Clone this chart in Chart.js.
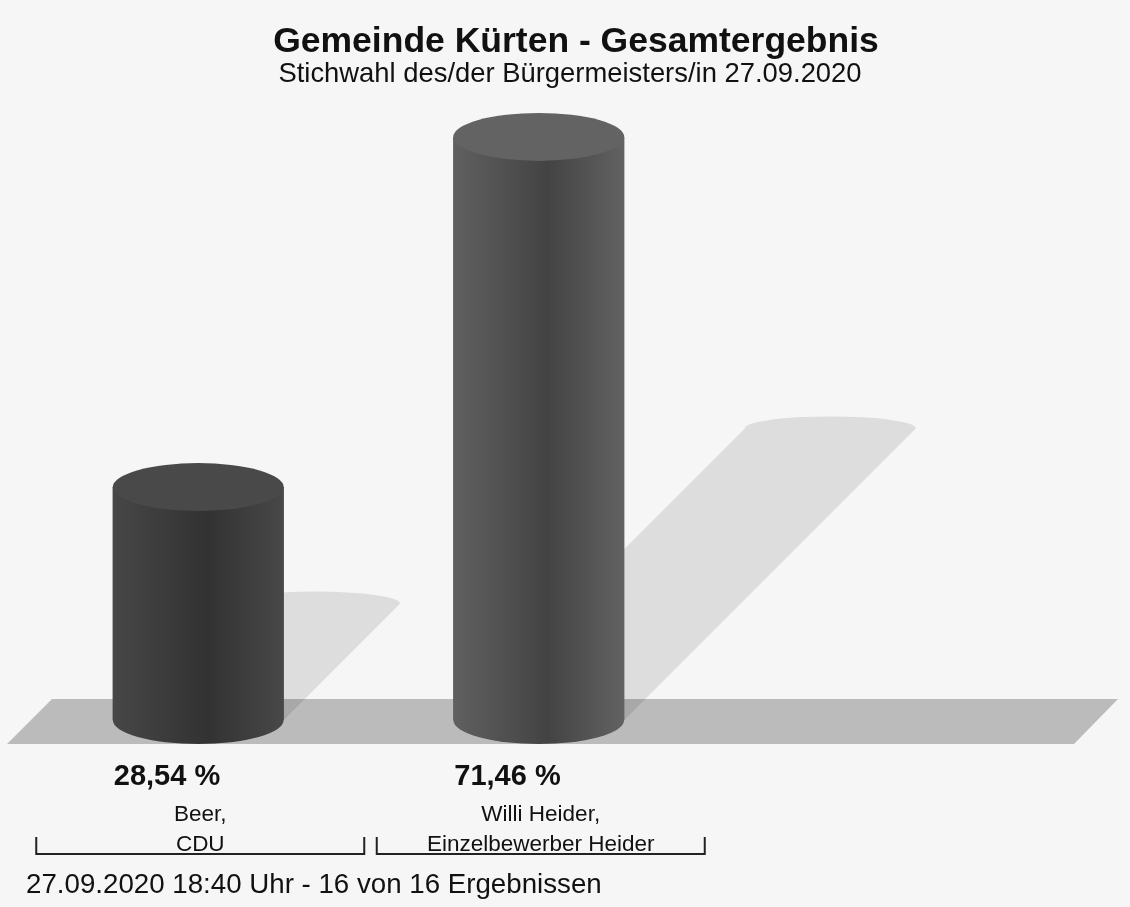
<!DOCTYPE html>
<html lang="de">
<head>
<meta charset="utf-8">
<title>Gemeinde Kürten - Gesamtergebnis</title>
<script src="https://cdn.jsdelivr.net/npm/chart.js@4.4.1/dist/chart.umd.min.js"></script>
<style>
  html, body { margin: 0; padding: 0; background: #f6f6f6; }
  canvas { display: block; }
</style>
</head>
<body>
<canvas id="grafik" width="1130" height="907"></canvas>
<script>
// Daten
const titel = 'Gemeinde Kürten - Gesamtergebnis';
const untertitel = 'Stichwahl des/der Bürgermeisters/in 27.09.2020';
const fusszeile = '27.09.2020 18:40 Uhr - 16 von 16 Ergebnissen';
const kandidaten = [['Beer,', 'CDU'], ['Willi Heider,', 'Einzelbewerber Heider']];
const anteile = [28.54, 71.46];

const schrift = '"Liberation Sans", Arial, Helvetica, sans-serif';
const RY = 24; // Halbhöhe der Ellipsen

function mische(hex, f) {
    const n = parseInt(hex.slice(1), 16);
    const k = v => Math.max(0, Math.min(255, Math.round(v * f)));
    return 'rgb(' + k(n >> 16) + ',' + k((n >> 8) & 255) + ',' + k(n & 255) + ')';
}

const zylinder = {
    id: 'zylinder',
    beforeDatasetsDraw(chart) {
        const ctx = chart.ctx;
        const y0 = chart.scales.y.getPixelForValue(0);
        ctx.save();
        // Boden
        ctx.fillStyle = '#bbbbbb';
        ctx.beginPath();
        ctx.moveTo(52, y0 - 21);
        ctx.lineTo(1118, y0 - 21);
        ctx.lineTo(1074, y0 + 24);
        ctx.lineTo(7, y0 + 24);
        ctx.closePath();
        ctx.fill();
        // Schatten
        ctx.fillStyle = 'rgba(0,0,0,0.1)';
        chart.getDatasetMeta(0).data.forEach(bar => {
            const hw = bar.width / 2, d = (bar.base - bar.y) / 2;
            ctx.beginPath();
            ctx.moveTo(bar.x - hw, bar.base);
            ctx.lineTo(bar.x - hw + d, bar.base - d);
            ctx.ellipse(bar.x + d, bar.base - d, hw, RY / 2, 0, Math.PI, 2 * Math.PI);
            ctx.lineTo(bar.x + hw, bar.base);
            ctx.closePath();
            ctx.fill();
        });
        ctx.restore();
    },
    afterDatasetsDraw(chart) {
        const ctx = chart.ctx;
        const ds = chart.data.datasets[0];
        ctx.save();
        chart.getDatasetMeta(0).data.forEach((bar, i) => {
            const farbe = ds.backgroundColor[i];
            const hw = bar.width / 2, l = bar.x - hw, r = bar.x + hw;
            const g = ctx.createLinearGradient(l, 0, r, 0);
            g.addColorStop(0, mische(farbe, 1));
            g.addColorStop(0.55, mische(farbe, 0.7));
            g.addColorStop(1, mische(farbe, 1.02));
            ctx.fillStyle = g;
            ctx.beginPath();
            ctx.moveTo(l, bar.y);
            ctx.lineTo(l, bar.base);
            ctx.ellipse(bar.x, bar.base, hw, RY, 0, Math.PI, 0, true);
            ctx.lineTo(r, bar.y);
            ctx.closePath();
            ctx.fill();
            // Deckel
            ctx.fillStyle = mische(farbe, 1.03);
            ctx.beginPath();
            ctx.ellipse(bar.x, bar.y, hw, RY, 0, 0, 2 * Math.PI);
            ctx.fill();
        });
        ctx.restore();
    }
};

const beschriftung = {
    id: 'beschriftung',
    afterDraw(chart) {
        const ctx = chart.ctx;
        const xs = chart.scales.x;
        ctx.save();
        ctx.fillStyle = '#111111';
        ctx.textAlign = 'center';
        ctx.font = 'bold 35.5px ' + schrift;
        ctx.fillText(titel, 576, 52);
        ctx.font = '27.4px ' + schrift;
        ctx.fillText(untertitel, 570, 82);

        chart.getDatasetMeta(0).data.forEach((bar, i) => {
            ctx.textAlign = 'left';
            ctx.font = 'bold 29px ' + schrift;
            ctx.fillText(anteile[i].toFixed(2).replace('.', ',') + ' %', bar.x - bar.width / 2 + 1, 785);

            const cx = xs.getPixelForValue(i) + 2;
            ctx.textAlign = 'center';
            ctx.font = '22.5px ' + schrift;
            ctx.fillText(kandidaten[i][0], cx, 821);
            ctx.fillText(kandidaten[i][1], cx, 851);

            ctx.strokeStyle = '#222222';
            ctx.lineWidth = 2;
            ctx.beginPath();
            ctx.moveTo(cx - 164, 837);
            ctx.lineTo(cx - 164, 854);
            ctx.lineTo(cx + 164, 854);
            ctx.lineTo(cx + 164, 837);
            ctx.stroke();
        });

        ctx.textAlign = 'left';
        ctx.font = '27.7px ' + schrift;
        ctx.fillText(fusszeile, 26, 893);
        ctx.restore();
    }
};

new Chart(document.getElementById('grafik').getContext('2d'), {
    type: 'bar',
    data: {
        labels: kandidaten,
        datasets: [{
            data: anteile,
            backgroundColor: ['#474747', '#606060'],
            borderWidth: 0,
            barPercentage: 0.502,
            categoryPercentage: 1
        }]
    },
    options: {
        responsive: false,
        animation: false,
        devicePixelRatio: 1,
        layout: { padding: { top: 108, bottom: 187, left: 28, right: 421 } },
        scales: {
            x: { display: false },
            y: { display: false, min: 0, max: 75 }
        },
        plugins: {
            legend: { display: false },
            tooltip: { enabled: false }
        }
    },
    plugins: [zylinder, beschriftung]
});
</script>
</body>
</html>
